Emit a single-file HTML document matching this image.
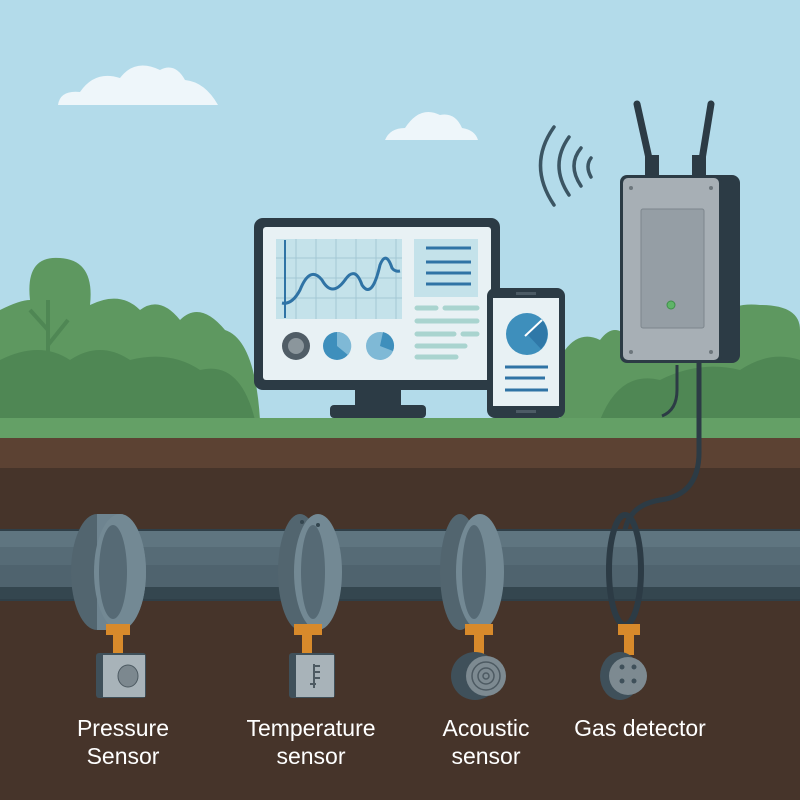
<!DOCTYPE html>
<html><head><style>body{margin:0}svg{display:block}</style></head><body>
<svg width="800" height="800" viewBox="0 0 800 800" xmlns="http://www.w3.org/2000/svg" font-family="Liberation Sans, sans-serif">
<rect width="800" height="420" fill="#b3dbea"/>
<path d="M58 105 Q60 90 80 92 Q95 70 120 78 Q135 58 160 70 Q175 62 185 80 Q205 82 218 105 Z" fill="#eef6fa"/>
<path d="M385 140 Q390 128 405 128 Q420 105 440 115 Q455 112 462 128 Q475 130 478 140 Z" fill="#eef6fa"/>
<g fill="#5e9860">
<path d="M0 420 L0 310 Q20 300 30 300 Q25 255 60 258 Q95 260 90 305 Q120 290 140 310 Q160 295 180 320 Q200 300 225 330 Q255 340 260 420 Z"/>
<path d="M560 420 L565 350 Q580 330 600 340 Q615 320 630 340 L640 330 Q680 320 700 340 Q720 300 760 305 Q800 305 800 330 L800 420 Z"/>
</g>
<g fill="#4f8754">
<path d="M0 420 L0 360 Q40 340 70 360 Q100 340 130 360 Q170 350 200 370 Q240 360 255 420 Z"/>
<path d="M600 420 Q620 370 660 380 Q700 360 740 370 Q770 350 800 360 L800 420 Z"/>
</g>
<path d="M48 300 L48 400 M48 330 L30 310 M48 345 L68 320" stroke="#4f8754" stroke-width="4" fill="none"/>
<rect x="0" y="418" width="800" height="21" fill="#64a066"/>
<rect x="0" y="438" width="800" height="31" fill="#5c4233"/>
<rect x="0" y="468" width="800" height="332" fill="#46342a"/>
<g stroke="#3b5563" stroke-width="3.5" fill="none" stroke-linecap="round">
<path d="M554 205 Q527 165 554 127"/><path d="M569 195 Q549 165 569 137"/><path d="M581 186 Q567 165 581 148"/><path d="M591 177 Q585 166 591 158"/>
</g>
<rect x="330" y="405" width="96" height="13" rx="4" fill="#2c3b45"/>
<rect x="355" y="385" width="46" height="22" fill="#2c3b45"/>
<rect x="254" y="218" width="246" height="172" rx="9" fill="#2c3b45"/>
<rect x="263" y="227" width="228" height="153" rx="3" fill="#e8f1f4"/>
<rect x="276" y="239" width="126" height="80" fill="#c4e2ea"/>
<g stroke="#a3c8d4" stroke-width="1"><path d="M296 239V319M316 239V319M336 239V319M356 239V319M376 239V319M396 239V319M276 258H402M276 278H402M276 298H402"/></g>
<path d="M285 240V318" stroke="#2f73a5" stroke-width="2"/>
<path d="M282 303 Q292 305 300 290 Q310 265 322 280 Q332 298 345 280 Q355 265 362 285 Q372 300 380 265 Q386 250 392 268 Q395 272 400 271" stroke="#2f73a5" stroke-width="3" fill="none"/>
<rect x="414" y="239" width="64" height="58" fill="#c4e2ea"/>
<g stroke="#2f73a5" stroke-width="3"><path d="M426 248H471M426 262H471M426 273H471M426 284H471"/></g>
<g stroke="#a9d4cf" stroke-width="5" stroke-linecap="round"><path d="M417 308H436M445 308H477M417 321H477M417 334H454M463 334H477M417 346H465M417 357H456"/></g>
<circle cx="296" cy="346" r="14" fill="#505d66"/><circle cx="296" cy="346" r="8" fill="#8b969c"/>
<circle cx="337" cy="346" r="14" fill="#3e8fbc"/><path d="M337 346 L337 332 A14 14 0 0 1 348 355Z" fill="#7fb9d6"/>
<circle cx="380" cy="346" r="14" fill="#7fb9d6"/><path d="M380 346 L383 332 A14 14 0 0 1 393 351Z" fill="#3e8fbc"/>
<rect x="487" y="288" width="78" height="130" rx="8" fill="#2c3b45"/>
<rect x="493" y="298" width="66" height="108" fill="#e8f1f4"/>
<rect x="516" y="292" width="20" height="3" fill="#4c5b65"/><rect x="516" y="410" width="20" height="3" fill="#4c5b65"/>
<circle cx="527" cy="334" r="21" fill="#3e8fbc"/><path d="M527 334 L543 321 A21 21 0 0 1 541 349Z" fill="#2f78a8"/>
<path d="M525 336 L542 320" stroke="#fff" stroke-width="2"/>
<g stroke="#2f73a5" stroke-width="3"><path d="M505 367H548M505 378H545M505 390H548"/></g>
<path d="M637 104 L652 172" stroke="#2c3b45" stroke-width="7" stroke-linecap="round"/>
<path d="M711 104 L700 172" stroke="#2c3b45" stroke-width="7" stroke-linecap="round"/>
<rect x="645" y="155" width="14" height="22" fill="#2c3b45"/><rect x="692" y="155" width="14" height="22" fill="#2c3b45"/>
<rect x="624" y="175" width="116" height="188" rx="8" fill="#2c3b45"/>
<rect x="620" y="175" width="102" height="188" rx="7" fill="#2c3b45"/>
<rect x="623" y="178" width="96" height="182" rx="5" fill="#a7afb5"/>
<rect x="641" y="209" width="63" height="119" rx="2" fill="#959ea5" stroke="#7d868d"/>
<circle cx="671" cy="305" r="4" fill="#5fb468" stroke="#3f8f4a"/>
<g fill="#6d767c"><circle cx="631" cy="188" r="2"/><circle cx="711" cy="188" r="2"/><circle cx="631" cy="352" r="2"/><circle cx="711" cy="352" r="2"/></g>
<path d="M677 365 L677 390 Q677 410 662 416" stroke="#2c3b45" stroke-width="3" fill="none"/>
<path d="M699 363 L699 450 Q700 495 660 500 Q630 505 625 530" stroke="#2c3b45" stroke-width="5" fill="none"/>
<rect x="0" y="530" width="800" height="70" fill="#4f636e"/>
<rect x="0" y="530" width="800" height="17" fill="#5f7580"/>
<rect x="0" y="547" width="800" height="18" fill="#566b76"/>
<rect x="0" y="587" width="800" height="13" fill="#34464f"/>
<rect x="0" y="529" width="800" height="2" fill="#2f3f48"/><rect x="0" y="599" width="800" height="2" fill="#2f3f48"/>
<g>
<ellipse cx="97" cy="572" rx="26" ry="58" fill="#52656f"/><path d="M97 514 H120 A26 58 0 0 1 120 630 H97Z" fill="#6e8490"/><ellipse cx="120" cy="572" rx="26" ry="58" fill="#738994"/><ellipse cx="113" cy="572" rx="14" ry="47" fill="#566a75"/>
<ellipse cx="300" cy="572" rx="22" ry="58" fill="#52656f"/><ellipse cx="318" cy="572" rx="24" ry="58" fill="#738994"/><ellipse cx="313" cy="572" rx="12" ry="47" fill="#566a75"/>
<circle cx="302" cy="522" r="2" fill="#34464f"/><circle cx="318" cy="525" r="2" fill="#34464f"/>
<ellipse cx="460" cy="572" rx="20" ry="58" fill="#52656f"/><ellipse cx="480" cy="572" rx="24" ry="58" fill="#738994"/><ellipse cx="474" cy="572" rx="12" ry="47" fill="#566a75"/>
<ellipse cx="625" cy="570" rx="16" ry="55" fill="none" stroke="#2c3b45" stroke-width="6"/>
</g>
<g fill="#d88a2b">
<rect x="106" y="624" width="24" height="11"/><rect x="113" y="635" width="10" height="20"/>
<rect x="294" y="624" width="28" height="11"/><rect x="302" y="635" width="10" height="20"/>
<rect x="465" y="624" width="28" height="11"/><rect x="474" y="635" width="10" height="20"/>
<rect x="618" y="624" width="22" height="11"/><rect x="624" y="635" width="10" height="20"/>
</g>
<rect x="96" y="653" width="50" height="45" rx="3" fill="#3f505a"/><rect x="103" y="655" width="42" height="42" fill="#a8b3b9"/><ellipse cx="128" cy="676" rx="10" ry="11" fill="#7c888f" stroke="#4d5a62"/>
<rect x="289" y="653" width="46" height="45" rx="3" fill="#3f505a"/><rect x="296" y="655" width="38" height="42" fill="#a8b3b9"/>
<path d="M314 664V688M314 666H320M314 672H320M314 678H320M310 684H316" stroke="#4d5a62" stroke-width="2"/>
<ellipse cx="475" cy="676" rx="24" ry="24" fill="#3f505a"/><circle cx="486" cy="676" r="20" fill="#7d8a91"/>
<circle cx="486" cy="676" r="14" fill="none" stroke="#4d5a62" stroke-width="1.5"/><circle cx="486" cy="676" r="8" fill="none" stroke="#4d5a62" stroke-width="1.5"/><circle cx="486" cy="676" r="3" fill="none" stroke="#4d5a62" stroke-width="1.5"/>
<ellipse cx="620" cy="676" rx="20" ry="24" fill="#3f505a"/><circle cx="628" cy="676" r="19" fill="#7d8a91"/>
<g fill="#3f505a"><circle cx="622" cy="667" r="2.5"/><circle cx="634" cy="667" r="2.5"/><circle cx="622" cy="681" r="2.5"/><circle cx="634" cy="681" r="2.5"/></g>
<g fill="#fff" font-size="23" text-anchor="middle">
<text x="123" y="736">Pressure</text><text x="123" y="764">Sensor</text>
<text x="311" y="736">Temperature</text><text x="311" y="764">sensor</text>
<text x="486" y="736">Acoustic</text><text x="486" y="764">sensor</text>
<text x="640" y="736">Gas detector</text>
</g>
</svg>
</body></html>
